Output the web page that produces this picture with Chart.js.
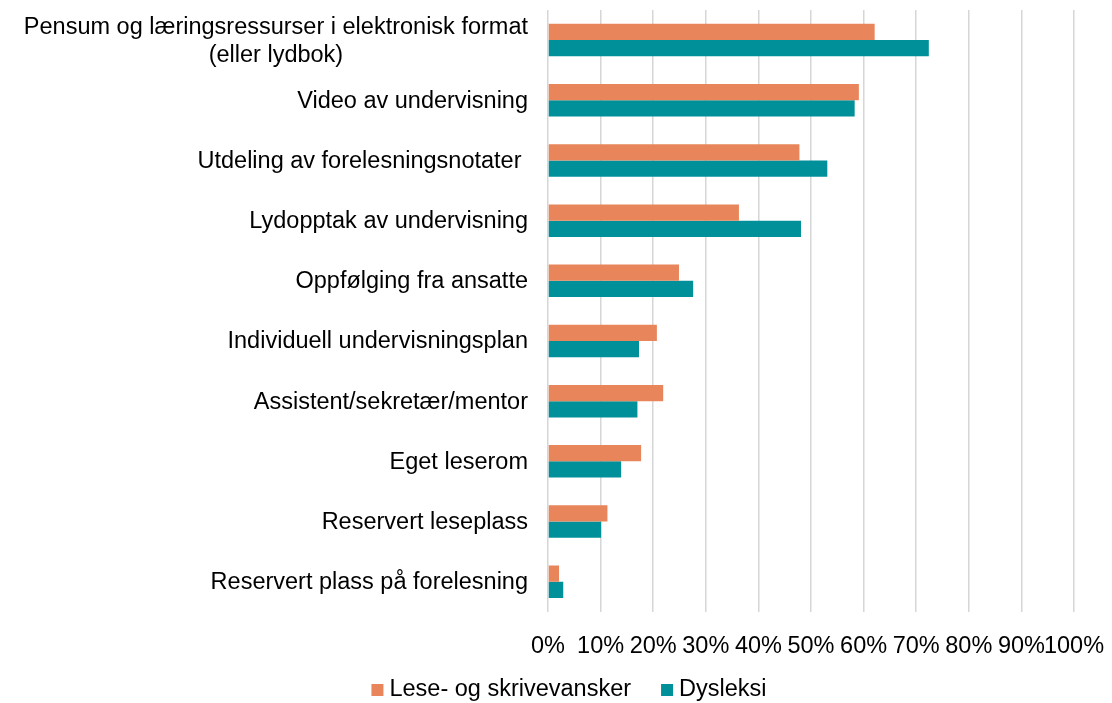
<!DOCTYPE html>
<html>
<head>
<meta charset="utf-8">
<script src="https://cdn.jsdelivr.net/npm/chart.js@4"></script>
<style>
html,body{margin:0;padding:0;background:#fff;}
#wrap{width:1112px;height:703px;}
</style>
</head>
<body>
<div id="wrap"><canvas id="c" width="1112" height="703"></canvas></div>
<script>
const categories = [
  ["Pensum og læringsressurser i elektronisk format", "(eller lydbok)"],
  "Video av undervisning",
  "Utdeling av forelesningsnotater ",
  "Lydopptak av undervisning",
  "Oppfølging fra ansatte",
  "Individuell undervisningsplan",
  "Assistent/sekretær/mentor",
  "Eget leserom",
  "Reservert leseplass",
  "Reservert plass på forelesning"
];
const seriesNames = ["Lese- og skrivevansker", "Dysleksi"];
const leseSkrive = [62.1, 59.1, 47.8, 36.3, 24.9, 20.7, 21.9, 17.7, 11.3, 2.1];
const dysleksi   = [72.4, 58.3, 53.1, 48.1, 27.6, 17.3, 17.0, 13.9, 10.1, 2.9];
const xTicks = [0, 10, 20, 30, 40, 50, 60, 70, 80, 90, 100];
const colors = ['#E9855A', '#00909A'];

const FONT = "'Liberation Sans', Arial, sans-serif";
const FS = 23.5;

const yLabelPlugin = {
  id: 'yLabels',
  afterDraw(chart) {
    const ys = chart.scales.y;
    const ctx = chart.ctx;
    ctx.save();
    ctx.font = FS + "px " + FONT;
    ctx.fillStyle = '#000';
    ctx.textBaseline = 'middle';
    ctx.textAlign = 'center';
    const right = chart.chartArea.left - 20;
    const lh = 28;
    ys.ticks.forEach((t, i) => {
      const lab = categories[i];
      const lines = Array.isArray(lab) ? lab : [lab];
      const widths = lines.map(l => ctx.measureText(l.trimEnd()).width);
      const maxW = Math.max(...widths);
      const yc = ys.getPixelForTick(i);
      const y0 = yc - (lines.length - 1) * lh / 2;
      lines.forEach((l, j) => {
        const cx = Array.isArray(lab) ? right - maxW / 2 : right - ctx.measureText(l).width / 2;
        ctx.fillText(l, cx, y0 + j * lh + 1);
      });
    });

    // legend
    const box = 12, gap = 6, itemGap = 30;
    const widths = seriesNames.map(n => box + gap + ctx.measureText(n).width);
    const total = widths.reduce((a, b) => a + b, 0) + itemGap * (seriesNames.length - 1);
    let x = 569 - total / 2;
    const ly = 690;
    ctx.textAlign = 'left';
    seriesNames.forEach((n, i) => {
      ctx.fillStyle = colors[i];
      ctx.fillRect(x, ly - box / 2, box, box);
      ctx.fillStyle = '#000';
      ctx.fillText(n, x + box + gap, ly);
      x += widths[i] + itemGap;
    });
    ctx.restore();
  }
};

new Chart(document.getElementById('c'), {
  type: 'bar',
  data: {
    labels: categories,
    datasets: [
      { label: seriesNames[0], data: leseSkrive, backgroundColor: colors[0], categoryPercentage: 0.54, barPercentage: 1.0 },
      { label: seriesNames[1], data: dysleksi, backgroundColor: colors[1], categoryPercentage: 0.54, barPercentage: 1.0 }
    ]
  },
  options: {
    indexAxis: 'y',
    responsive: false,
    animation: false,
    devicePixelRatio: 1,
    layout: { padding: { top: 10, right: 38, left: 0, bottom: 21 } },
    scales: {
      x: {
        min: 0, max: 100,
        afterBuildTicks(scale) { scale.ticks = xTicks.map(v => ({ value: v })); },
        afterFit(scale) { scale.paddingRight = 0; scale.paddingLeft = 0; },
        grid: { color: '#d6d6d6', lineWidth: 1.5, drawTicks: false },
        border: { display: false },
        ticks: {
          autoSkip: false, maxRotation: 0,
          padding: 21,
          color: '#000',
          font: { family: FONT, size: FS },
          callback: v => v + '%'
        }
      },
      y: {
        grid: { display: false, drawTicks: false },
        border: { display: false },
        ticks: { display: false },
        afterFit(scale) { scale.width = 548; }
      }
    },
    plugins: {
      legend: { display: false },
      tooltip: { enabled: false }
    }
  },
  plugins: [yLabelPlugin]
});
</script>
</body>
</html>
